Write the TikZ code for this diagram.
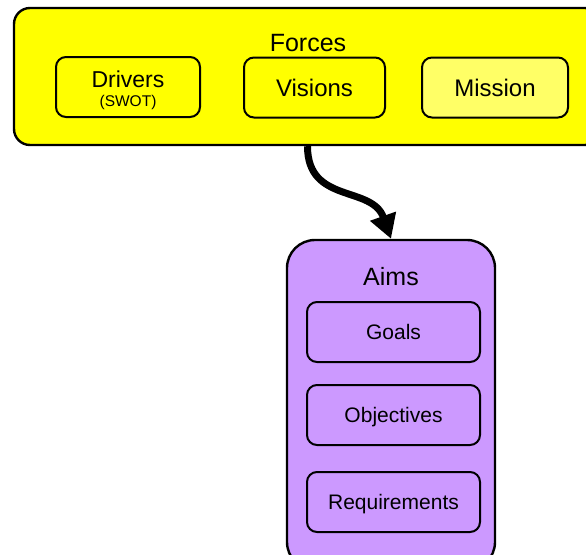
\documentclass[tikz,border=0pt]{standalone}
\usepackage{fontspec}
\setmainfont{Liberation Sans}
\usetikzlibrary{arrows.meta}
\definecolor{forceyellow}{HTML}{FFFF00}
\definecolor{lightyellow}{HTML}{FFFF66}
\definecolor{aimpurple}{HTML}{CC99FF}
\tikzset{
  group/.style={draw=black, line width=2.4pt, inner sep=0pt},
  item/.style={draw=black, line width=2pt, rounded corners=10pt, inner sep=0pt,
    minimum height=60pt, align=center},
  bigtext/.style={font=\fontsize{24}{27}\selectfont, text height=17pt, text depth=0pt},
  midtext/.style={font=\fontsize{21}{24}\selectfont, text height=15pt, text depth=0pt},
  flow/.style={line width=7pt, -{Triangle[width=26pt,length=24pt]}}
}
\begin{document}
\begin{tikzpicture}[x=1pt,y=-1pt]
\useasboundingbox (0,0) rectangle (586,554);
\fill[white] (0,0) rectangle (586,554);

% Forces group
\node[group, fill=forceyellow, rounded corners=16pt,
      minimum width=587pt, minimum height=137pt] (forces) at (307.5,76.5) {};
\node[font=\fontsize{25}{28}\selectfont] (forcestitle) at (308,43) {Forces};
\node[item, fill=forceyellow, minimum width=144pt] (drivers) at (128,87) {};
\node[align=center, inner sep=0pt] (driverstext) at (128,90)
  {\fontsize{23}{16}\selectfont Drivers\\[7pt]\fontsize{15.5}{16}\selectfont (SWOT)};
\node[item, fill=forceyellow, minimum width=141pt, bigtext] (visions) at (314.5,87.5) {Visions};
\node[item, fill=lightyellow, minimum width=146pt, bigtext] (mission) at (495,87.5) {Mission};

% Aims group
\node[group, fill=aimpurple, rounded corners=28pt,
      minimum width=208pt, minimum height=330pt] (aims) at (391,405) {};
\node[font=\fontsize{25}{28}\selectfont] (aimstitle) at (391,277) {Aims};
\node[item, fill=aimpurple, minimum width=173pt, midtext] (goals) at (393.5,332) {Goals};
\node[item, fill=aimpurple, minimum width=173pt, midtext] (objectives) at (393.5,415) {Objectives};
\node[item, fill=aimpurple, minimum width=173pt, midtext] (requirements) at (393.5,502) {Requirements};

% Flow from forces to aims
\draw[flow] (forces.south) .. controls +(0,58) and (372,185) .. (aims.north);
\end{tikzpicture}
\end{document}
